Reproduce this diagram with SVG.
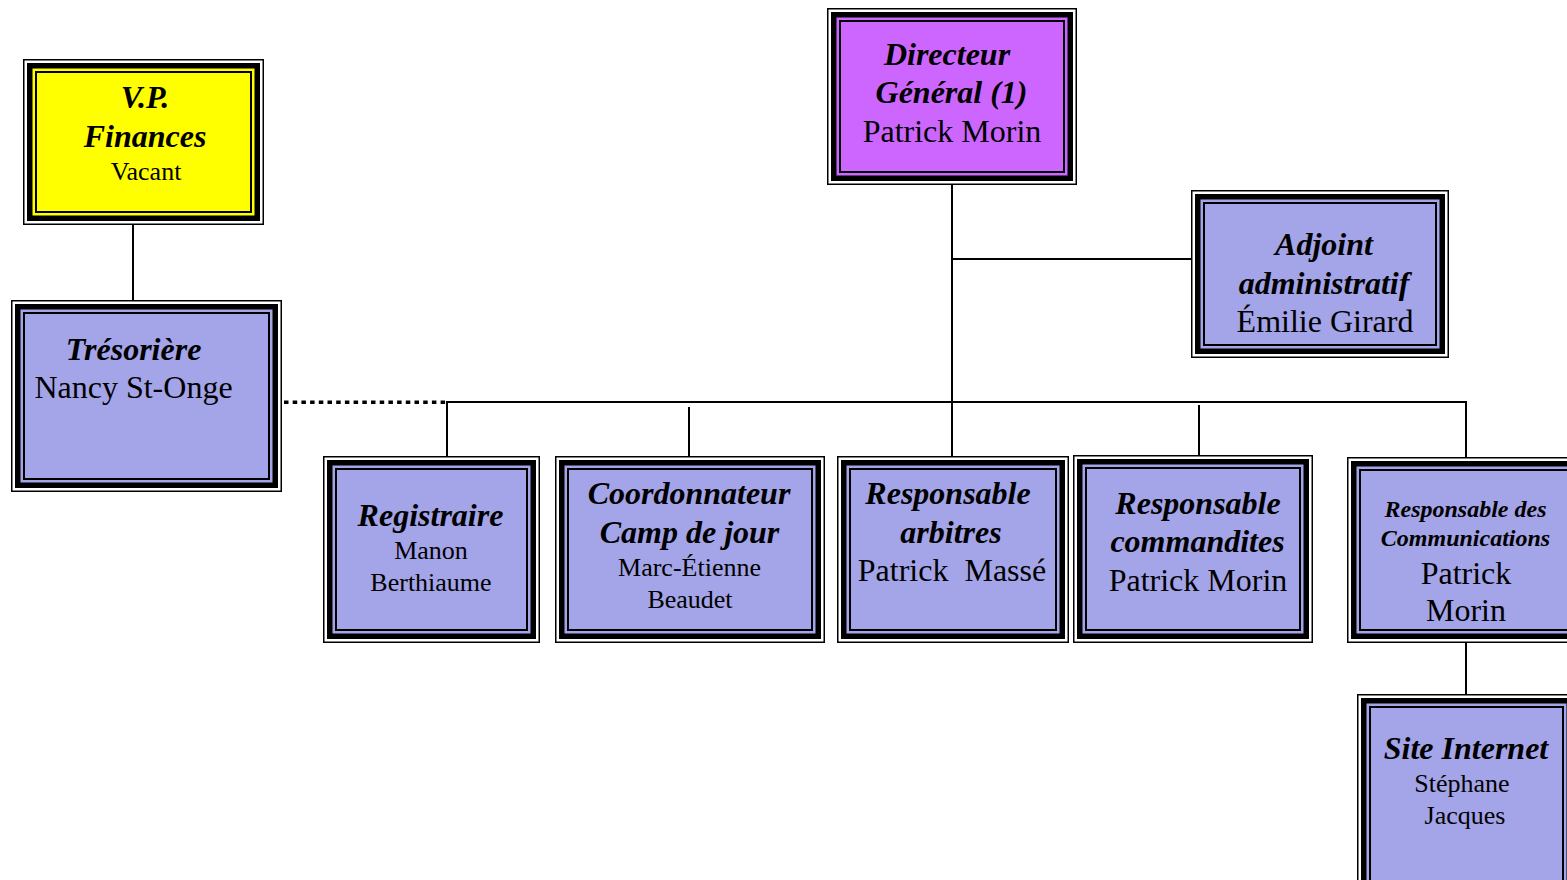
<svg xmlns="http://www.w3.org/2000/svg" width="1567" height="880" viewBox="0 0 1567 880">
<style>
.o{fill:#fff;stroke:#000;stroke-width:1.5}
.k{stroke:#000;stroke-width:5.5}
.i{fill:none;stroke:#000;stroke-width:2}
.b{fill:#A4A4E8}
.y{fill:#FFFF00}
.p{fill:#CC66FF}
text{font-family:"Liberation Serif","Times New Roman",serif;fill:#000;text-anchor:middle}
.t{font-weight:bold;font-style:italic;font-size:32px}
.ts{font-weight:bold;font-style:italic;font-size:24px}
.n{font-size:32px}
.s{font-size:26px}
.c{fill:none;stroke:#000;stroke-width:2}
.d{fill:none;stroke:#000;stroke-width:3.5;stroke-dasharray:4.5 4.2}
</style>
<rect width="1567" height="880" fill="#fff"/>
<g id="connectors">
<line class="c" x1="133" y1="225" x2="133" y2="300"/>
<line class="c" x1="952" y1="185" x2="952" y2="456"/>
<line class="c" x1="952" y1="259" x2="1191" y2="259"/>
<line class="c" x1="446" y1="402" x2="1467" y2="402"/>
<line class="c" x1="447" y1="402" x2="447" y2="456"/>
<line class="c" x1="689" y1="407" x2="689" y2="456"/>
<line class="c" x1="1199" y1="405" x2="1199" y2="455"/>
<line class="c" x1="1466" y1="401" x2="1466" y2="457"/>
<line class="c" x1="1466" y1="643" x2="1466" y2="694"/>
<line class="d" x1="284" y1="402.3" x2="446" y2="402.3"/>
</g>
<g id="vp-finances">
<rect class="o" x="23.75" y="59.75" width="239.5" height="164.5"/>
<rect class="k y" x="29.75" y="65.75" width="227.5" height="152.5"/>
<rect class="i" x="36" y="72" width="215" height="140"/>
<text class="t" x="145" y="108">V.P.</text>
<text class="t" x="145" y="147">Finances</text>
<text class="s" x="146" y="180">Vacant</text>
</g>
<g id="directeur">
<rect class="o" x="827.75" y="8.75" width="248.5" height="175.5"/>
<rect class="k p" x="833.75" y="14.75" width="236.5" height="163.5"/>
<rect class="i" x="840" y="21" width="224" height="151"/>
<text class="t" x="947" y="65">Directeur</text>
<text class="t" x="951.5" y="103">Général (1)</text>
<text class="n" x="952" y="141.5">Patrick Morin</text>
</g>
<g id="adjoint">
<rect class="o" x="1191.75" y="190.75" width="256.5" height="166.5"/>
<rect class="k b" x="1197.75" y="196.75" width="244.5" height="154.5"/>
<rect class="i" x="1204" y="203" width="232" height="142"/>
<text class="t" x="1324" y="255">Adjoint</text>
<text class="t" x="1324" y="294">administratif</text>
<text class="n" x="1325" y="332">Émilie Girard</text>
</g>
<g id="tresoriere">
<rect class="o" x="11.75" y="300.75" width="269.5" height="190.5"/>
<rect class="k b" x="17.75" y="306.75" width="257.5" height="178.5"/>
<rect class="i" x="24" y="313" width="245" height="166"/>
<text class="t" x="133.5" y="360">Trésorière</text>
<text class="n" x="133.5" y="398">Nancy St-Onge</text>
</g>
<g id="registraire">
<rect class="o" x="323.75" y="456.75" width="215.5" height="185.5"/>
<rect class="k b" x="329.75" y="462.75" width="203.5" height="173.5"/>
<rect class="i" x="336" y="469" width="191" height="161"/>
<text class="t" x="430.5" y="526">Registraire</text>
<text class="s" x="431" y="558.5">Manon</text>
<text class="s" x="431" y="591">Berthiaume</text>
</g>
<g id="coordonnateur">
<rect class="o" x="555.75" y="456.75" width="268.5" height="185.5"/>
<rect class="k b" x="561.75" y="462.75" width="256.5" height="173.5"/>
<rect class="i" x="568" y="469" width="244" height="161"/>
<text class="t" x="689" y="504">Coordonnateur</text>
<text class="t" x="689.5" y="543">Camp de jour</text>
<text class="s" x="689.5" y="576">Marc-Étienne</text>
<text class="s" x="690" y="608">Beaudet</text>
</g>
<g id="arbitres">
<rect class="o" x="837.75" y="456.75" width="230.5" height="185.5"/>
<rect class="k b" x="843.75" y="462.75" width="218.5" height="173.5"/>
<rect class="i" x="850" y="469" width="206" height="161"/>
<text class="t" x="948" y="504">Responsable</text>
<text class="t" x="951" y="543">arbitres</text>
<text class="n" x="952" y="581" xml:space="preserve">Patrick  Massé</text>
</g>
<g id="commandites">
<rect class="o" x="1073.75" y="455.75" width="238.5" height="186.5"/>
<rect class="k b" x="1079.75" y="461.75" width="226.5" height="174.5"/>
<rect class="i" x="1086" y="468" width="214" height="162"/>
<text class="t" x="1198" y="514">Responsable</text>
<text class="t" x="1197.5" y="552">commandites</text>
<text class="n" x="1198" y="591">Patrick Morin</text>
</g>
<g id="communications">
<rect class="o" x="1347.75" y="457.75" width="237.5" height="184.5"/>
<rect class="k b" x="1353.75" y="463.75" width="225.5" height="172.5"/>
<rect class="i" x="1360" y="470" width="213" height="160"/>
<text class="ts" x="1465.5" y="517">Responsable des</text>
<text class="ts" x="1465.5" y="546">Communications</text>
<text class="n" x="1466" y="584">Patrick</text>
<text class="n" x="1466" y="621">Morin</text>
</g>
<g id="site-internet">
<rect class="o" x="1357.75" y="694.75" width="217.5" height="204.5"/>
<rect class="k b" x="1363.75" y="700.75" width="205.5" height="192.5"/>
<rect class="i" x="1370" y="707" width="193" height="180"/>
<text class="t" x="1466" y="759">Site Internet</text>
<text class="s" x="1462" y="792">Stéphane</text>
<text class="s" x="1465" y="824">Jacques</text>
</g>
</svg>
